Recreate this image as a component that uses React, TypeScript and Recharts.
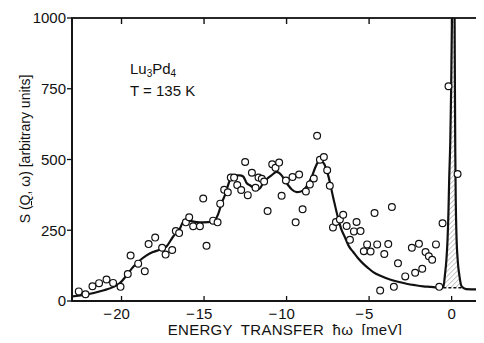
import React from "react";
import { Area, ComposedChart, Line, Scatter, XAxis, YAxis } from "recharts";

// measured points (open circles), energy in meV
const obsEnergy = [
  -22.59, -22.18, -21.76, -21.36, -20.91, -20.51, -20.06, -19.62, -19.45, -18.99,
  -18.59, -18.36, -17.96, -17.54, -17.33, -16.93, -16.71, -16.51, -16.1, -15.9,
  -15.66, -15.25, -15.05, -14.85, -14.45, -14.18, -14.02, -13.78, -13.56, -13.38,
  -13.18, -12.99, -12.75, -12.51, -12.35, -12.1, -11.88, -11.7, -11.5, -11.36,
  -11.15, -10.87, -10.67, -10.45, -10.3, -10.04, -9.64, -9.45, -9.24, -9.03,
  -8.83, -8.59, -8.35, -8.15, -7.98, -7.74, -7.54, -7.38, -7.19, -7.01,
  -6.77, -6.57, -6.36, -6.16, -5.92, -5.76, -5.52, -5.32, -5.12, -4.91,
  -4.67, -4.51, -4.33, -4.08, -3.84, -3.62, -3.5, -3.25, -2.81, -2.41,
  -2.21, -1.98, -1.78, -1.58, -1.38, -1.18, -0.95, -0.75, -0.55, -0.19, 0.36,
];
const obsCounts = [
  34, 24, 52, 63, 76, 64, 50, 95, 161, 132,
  105, 201, 224, 188, 164, 180, 247, 240, 278, 296,
  264, 264, 362, 195, 284, 278, 344, 393, 384, 436,
  436, 410, 392, 491, 374, 453, 400, 436, 432, 422,
  318, 483, 471, 489, 372, 426, 438, 278, 447, 324,
  387, 412, 433, 584, 499, 509, 462, 407, 260, 279,
  288, 305, 265, 216, 246, 279, 247, 176, 200, 175,
  311, 200, 37, 166, 201, 332, 50, 133, 87, 188,
  100, 202, 114, 173, 158, 146, 200, 50, 275, 759, 449,
];

// fitted curve (solid line), including the elastic line near 0 meV
const fitEnergy = [
  -23.0, -22.12, -21.12, -20.51, -20.1, -19.7, -19.3, -18.89, -18.48, -18.1,
  -17.69, -17.27, -16.87, -16.47, -16.26, -15.86, -15.45, -15.05, -14.45, -14.15,
  -13.92, -13.74, -13.44, -13.13, -12.83, -12.63, -12.41, -12.22, -11.92, -11.67,
  -11.42, -11.16, -10.91, -10.61, -10.3, -10.1, -9.9, -9.68, -9.39, -9.13,
  -8.89, -8.68, -8.48, -8.28, -8.1, -7.95, -7.74, -7.48, -7.18, -6.87,
  -6.68, -6.47, -6.22, -5.96, -5.68, -5.36, -5.07, -4.75, -4.28, -3.74,
  -3.25, -2.73, -2.22, -1.72, -1.25, -0.89, -0.7, -0.5, -0.41, -0.32,
  -0.25, -0.19, -0.15, -0.08, -0.03, 0.02, 0.1, 0.18, 0.2, 0.22,
  0.25, 0.29, 0.37, 0.47, 0.62, 0.87, 1.35, 1.84,
];
const fitCounts = [
  16, 23, 37, 49, 63, 90, 120, 143, 161, 173,
  181, 193, 228, 255, 279, 283, 279, 278, 281, 306,
  348, 373, 426, 444, 444, 440, 416, 409, 397, 396,
  416, 433, 444, 456, 444, 426, 409, 394, 385, 387,
  397, 416, 438, 469, 490, 495, 486, 444, 367, 291,
  253, 226, 193, 173, 152, 132, 117, 102, 88, 76,
  68, 61, 56, 52, 50, 48, 48, 49, 90, 143,
  214, 320, 426, 567, 744, 1000, 1500, 1000, 744, 532,
  356, 239, 143, 90, 50, 42, 41, 40,
];

// elastic peak: hatched between these energies, above the dashed background
const elasticFrom = -0.5;
const elasticTo = 0.62;
const elasticBackground = 47;

const xTicks = [-20, -15, -10, -5, 0];
const yTicks = [0, 250, 500, 750, 1000];

const INK = "#111";
const FONT = "'Liberation Sans', Arial, sans-serif";

const DOMAIN_X: [number, number] = [-23, 1.84];
const DOMAIN_Y: [number, number] = [0, 1000];

// plot box in px (chart margins + axis sizes below)
const PLOT = { left: 72, top: 18, width: 410, height: 283 };

const obsData = obsEnergy.map((x, i) => ({ x, y: obsCounts[i] }));
const fitData = fitEnergy.map((x, i) => ({ x, y: fitCounts[i] }));
const hatchData = fitData
  .filter((d) => d.x >= elasticFrom && d.x <= elasticTo)
  .map((d) => ({ x: d.x, range: [elasticBackground, d.y] }));
const backgroundData = [
  { x: elasticFrom, y: elasticBackground },
  { x: elasticTo, y: elasticBackground },
];

function EnergyTick({ x, y, payload }: any) {
  const v = payload.value as number;
  const digits = String(Math.abs(v));
  const half = digits.length * 4.2;
  const style = { fontSize: 15, fontFamily: FONT, fill: INK };
  return (
    <g>
      <text x={x} y={y} dy="0.71em" textAnchor="middle" {...style}>
        {digits}
      </text>
      {v < 0 && (
        <text x={x - half - 1} y={y} dy="0.71em" textAnchor="end" {...style}>
          −
        </text>
      )}
    </g>
  );
}

function OpenCircle({ cx, cy }: any) {
  if (cx == null || cy == null) return null;
  return <circle cx={cx} cy={cy} r={3.4} fill="#fff" stroke={INK} strokeWidth={1.2} />;
}

// whole box with inward ticks on top and right, drawn over the chart
function Frame() {
  const sx = (t: number) =>
    PLOT.left + ((t - DOMAIN_X[0]) / (DOMAIN_X[1] - DOMAIN_X[0])) * PLOT.width;
  const sy = (v: number) =>
    PLOT.top + PLOT.height - ((v - DOMAIN_Y[0]) / (DOMAIN_Y[1] - DOMAIN_Y[0])) * PLOT.height;
  const top = PLOT.top;
  const right = PLOT.left + PLOT.width;
  return (
    <svg
      width={484}
      height={343}
      viewBox="0 0 484 343"
      style={{ position: "absolute", left: 0, top: 0, zIndex: 5, pointerEvents: "none" }}
    >
      <rect
        x={PLOT.left}
        y={PLOT.top}
        width={PLOT.width}
        height={PLOT.height}
        fill="none"
        stroke={INK}
        strokeWidth={1.8}
      />
      {xTicks.map((t) => (
        <line key={`tx${t}`} x1={sx(t)} x2={sx(t)} y1={top} y2={top + 6} stroke={INK} strokeWidth={1.4} />
      ))}
      {yTicks.slice(1, -1).map((v) => (
        <line key={`ty${v}`} x1={right - 6} x2={right} y1={sy(v)} y2={sy(v)} stroke={INK} strokeWidth={1.4} />
      ))}
    </svg>
  );
}

const axisLine = { stroke: INK, strokeWidth: 1.5 };
const tickLine = { stroke: INK, strokeWidth: 1.3 };

export default function App() {
  return (
    <div
      style={{
        position: "relative",
        margin: -8,
        width: 484,
        height: 343,
        background: "#fff",
        fontFamily: FONT,
        color: INK,
      }}
    >
      <ComposedChart
        width={484}
        height={343}
        margin={{ top: PLOT.top, right: 484 - PLOT.left - PLOT.width, left: 0, bottom: 0 }}
      >
        <defs>
          <pattern
            id="hatch"
            patternUnits="userSpaceOnUse"
            width={3.5}
            height={3.5}
            patternTransform="rotate(45)"
          >
            <line x1={0} y1={0} x2={0} y2={3.5} stroke="#444" strokeWidth={0.6} />
          </pattern>
        </defs>
        <XAxis
          dataKey="x"
          type="number"
          domain={DOMAIN_X}
          allowDataOverflow
          ticks={xTicks}
          height={343 - PLOT.top - PLOT.height}
          tickSize={-5}
          tickMargin={12}
          axisLine={axisLine}
          tickLine={tickLine}
          tick={<EnergyTick />}
        />
        <YAxis
          dataKey="y"
          type="number"
          domain={DOMAIN_Y}
          allowDataOverflow
          ticks={yTicks}
          width={PLOT.left}
          tickSize={5}
          tickMargin={1}
          axisLine={axisLine}
          tickLine={tickLine}
          tick={{ fontSize: 15, fontFamily: FONT, fill: INK }}
        />

        <Area
          data={hatchData}
          dataKey="range"
          type="monotone"
          fill="url(#hatch)"
          fillOpacity={1}
          stroke="none"
          isAnimationActive={false}
        />
        <Line
          data={backgroundData}
          dataKey="y"
          stroke={INK}
          strokeWidth={1.6}
          strokeDasharray="3 2"
          dot={false}
          isAnimationActive={false}
        />
        <Line
          data={fitData}
          dataKey="y"
          type="monotone"
          stroke={INK}
          strokeWidth={2.2}
          dot={false}
          isAnimationActive={false}
        />
        <Scatter data={obsData} shape={<OpenCircle />} isAnimationActive={false} />
      </ComposedChart>

      <Frame />

      <div
        style={{
          position: "absolute",
          left: 130,
          top: 60,
          fontSize: 15,
          lineHeight: "18px",
          whiteSpace: "nowrap",
        }}
      >
        Lu<sub style={{ fontSize: 10, verticalAlign: "-3px" }}>3</sub>Pd
        <sub style={{ fontSize: 10, verticalAlign: "-3px" }}>4</sub>
      </div>
      <div
        style={{
          position: "absolute",
          left: 130,
          top: 82,
          fontSize: 15,
          lineHeight: "18px",
          whiteSpace: "nowrap",
        }}
      >
        T = 135 K
      </div>

      <div
        style={{
          position: "absolute",
          left: 25,
          top: 149,
          transform: "translate(-50%, -50%) rotate(-90deg)",
          fontSize: 14,
          whiteSpace: "nowrap",
        }}
      >
        S (<span style={{ textDecoration: "underline" }}>Q</span>, ω) [arbitrary units]
      </div>

      <div
        style={{
          position: "absolute",
          left: 285,
          top: 321,
          transform: "translateX(-50%)",
          fontSize: 15,
          lineHeight: "17px",
          whiteSpace: "nowrap",
          wordSpacing: 4,
          letterSpacing: 0.3,
        }}
      >
        ENERGY TRANSFER ħω [meV]
      </div>
    </div>
  );
}
